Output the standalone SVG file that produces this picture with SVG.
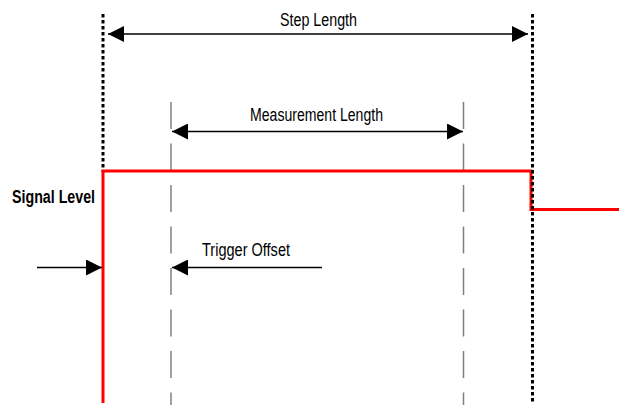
<svg xmlns="http://www.w3.org/2000/svg" width="619" height="405" viewBox="0 0 619 405">
<style>
.t{font-family:"Liberation Sans",Arial,sans-serif;font-size:17.5px;fill:#000}
.b{font-weight:bold}
.dot{stroke:#000;stroke-width:3;stroke-dasharray:3.5 2.5;fill:none}
.dash{stroke:#808080;stroke-width:1.5;stroke-dasharray:27 14.5;fill:none}
.arr{stroke:#000;stroke-width:1.5;fill:none}
.sig{stroke:#ff0000;stroke-width:3;fill:none}
</style>
<defs>
<marker id="ah" viewBox="0 0 16 16" refX="16" refY="8" markerWidth="16" markerHeight="16" markerUnits="userSpaceOnUse" orient="auto-start-reverse">
<path d="M0,0 L16,8 L0,16 Z" fill="#000"/>
</marker>
</defs>
<g id="guides">
<line id="step-start" class="dot" x1="103" y1="14" x2="103" y2="172"/>
<line id="meas-start" class="dash" x1="171" y1="102" x2="171" y2="405"/>
<line id="meas-end" class="dash" x1="463.5" y1="102" x2="463.5" y2="405"/>
</g>
<g id="signal">
<polyline class="sig" points="103,403 103,171 531,171 531,209.5 619,209.5"/>
</g>
<g id="guides-top">
<line id="step-end" class="dot" x1="532.5" y1="14" x2="532.5" y2="402"/>
</g>
<g id="connectors">
<line class="arr" x1="108" y1="34" x2="528" y2="34" marker-start="url(#ah)" marker-end="url(#ah)"/>
<line class="arr" x1="172" y1="131.5" x2="463" y2="131.5" marker-start="url(#ah)" marker-end="url(#ah)"/>
<line class="arr" x1="37" y1="267.5" x2="102" y2="267.5" marker-end="url(#ah)"/>
<line class="arr" x1="322" y1="267.5" x2="172" y2="267.5" marker-end="url(#ah)"/>
</g>
<g id="labels">
<text class="t" x="280" y="25.5" textLength="77" lengthAdjust="spacingAndGlyphs">Step Length</text>
<text class="t" x="250" y="120.5" textLength="133" lengthAdjust="spacingAndGlyphs">Measurement Length</text>
<text class="t b" x="12" y="203" textLength="83" lengthAdjust="spacingAndGlyphs">Signal Level</text>
<text class="t" x="202" y="256" textLength="88" lengthAdjust="spacingAndGlyphs">Trigger Offset</text>
</g>
</svg>
